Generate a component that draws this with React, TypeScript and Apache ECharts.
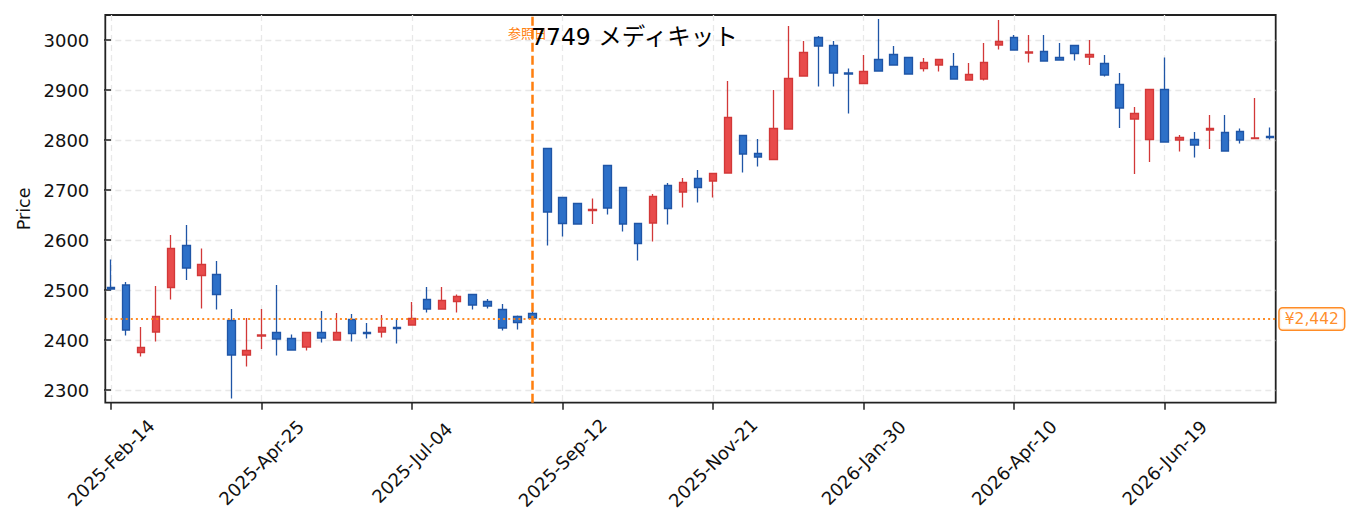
import React, { useEffect, useRef } from "react";
import * as echarts from "echarts";

const chartTitle = "7749 メディキット";
const referenceLabel = "参照日";
const yAxisName = "Price";

const dates = [
  "2025-02-14", "2025-02-21", "2025-02-28", "2025-03-07", "2025-03-14", "2025-03-21", "2025-03-28", "2025-04-04", "2025-04-11", "2025-04-18",
  "2025-04-25", "2025-05-02", "2025-05-09", "2025-05-16", "2025-05-23", "2025-05-30", "2025-06-06", "2025-06-13", "2025-06-20", "2025-06-27",
  "2025-07-04", "2025-07-11", "2025-07-18", "2025-07-25", "2025-08-01", "2025-08-08", "2025-08-15", "2025-08-22", "2025-08-29", "2025-09-05",
  "2025-09-12", "2025-09-19", "2025-09-26", "2025-10-03", "2025-10-10", "2025-10-17", "2025-10-24", "2025-10-31", "2025-11-07", "2025-11-14",
  "2025-11-21", "2025-11-28", "2025-12-05", "2025-12-12", "2025-12-19", "2025-12-26", "2026-01-02", "2026-01-09", "2026-01-16", "2026-01-23",
  "2026-01-30", "2026-02-06", "2026-02-13", "2026-02-20", "2026-02-27", "2026-03-06", "2026-03-13", "2026-03-20", "2026-03-27", "2026-04-03",
  "2026-04-10", "2026-04-17", "2026-04-24", "2026-05-01", "2026-05-08", "2026-05-15", "2026-05-22", "2026-05-29", "2026-06-05", "2026-06-12",
  "2026-06-19", "2026-06-26", "2026-07-03", "2026-07-10", "2026-07-17", "2026-07-24", "2026-07-31", "2026-08-07",
];

const opens = [
  2505, 2510, 2375, 2416, 2505, 2589, 2529, 2531, 2439, 2370,
  2408, 2415, 2403, 2386, 2415, 2400, 2441, 2415, 2416, 2425,
  2430, 2481, 2462, 2477, 2491, 2477, 2461, 2447, 2453, 2783,
  2685, 2673, 2659, 2749, 2705, 2633, 2634, 2709, 2696, 2723,
  2718, 2734, 2809, 2773, 2761, 2822, 2928, 3005, 2989, 2934,
  2913, 2961, 2971, 2965, 2943, 2950, 2947, 2920, 2922, 2990,
  3005, 2974, 2977, 2965, 2989, 2966, 2953, 2911, 2842, 2801,
  2901, 2800, 2801, 2820, 2815, 2817, 2803, 2807,
];

const closes = [
  2502, 2420, 2385, 2447, 2583, 2544, 2551, 2491, 2370, 2379,
  2410, 2402, 2380, 2415, 2404, 2415, 2413, 2413, 2425, 2423,
  2443, 2462, 2479, 2487, 2470, 2468, 2424, 2435, 2444, 2656,
  2633, 2632, 2661, 2664, 2632, 2593, 2687, 2663, 2715, 2705,
  2733, 2845, 2772, 2766, 2823, 2923, 2975, 2988, 2934, 2932,
  2937, 2938, 2950, 2932, 2955, 2961, 2922, 2931, 2955, 2997,
  2980, 2976, 2958, 2960, 2973, 2971, 2930, 2864, 2853, 2901,
  2796, 2805, 2790, 2823, 2778, 2800, 2804, 2805,
];

const lows = [
  2499, 2409, 2367, 2397, 2481, 2520, 2463, 2461, 2283, 2347,
  2382, 2369, 2380, 2379, 2395, 2400, 2397, 2403, 2405, 2393,
  2430, 2455, 2462, 2455, 2461, 2463, 2419, 2421, 2435, 2589,
  2607, 2632, 2632, 2651, 2617, 2559, 2597, 2631, 2665, 2675,
  2685, 2734, 2735, 2747, 2761, 2822, 2928, 2907, 2907, 2853,
  2913, 2938, 2950, 2932, 2937, 2937, 2922, 2920, 2919, 2981,
  2980, 2955, 2958, 2960, 2959, 2950, 2927, 2824, 2732, 2756,
  2796, 2777, 2765, 2782, 2778, 2793, 2803, 2801,
];

const highs = [
  2561, 2516, 2426, 2508, 2610, 2630, 2583, 2558, 2462, 2444,
  2462, 2510, 2411, 2415, 2458, 2454, 2452, 2434, 2450, 2443,
  2476, 2506, 2506, 2491, 2491, 2482, 2472, 2449, 2461, 2783,
  2685, 2673, 2683, 2749, 2705, 2633, 2692, 2714, 2724, 2740,
  2733, 2918, 2809, 2802, 2900, 3028, 2998, 3008, 2998, 2943,
  2970, 3042, 2988, 2965, 2964, 2961, 2974, 2954, 2994, 3040,
  3010, 3010, 3010, 2994, 2989, 3000, 2970, 2934, 2866, 2901,
  2965, 2810, 2816, 2850, 2850, 2823, 2884, 2825,
];

const xTickIndices = [0, 10, 20, 30, 40, 50, 60, 70];
const xTickLabels = [
  "2025-Feb-14", "2025-Apr-25", "2025-Jul-04", "2025-Sep-12",
  "2025-Nov-21", "2026-Jan-30", "2026-Apr-10", "2026-Jun-19",
];
const yTicks = [2300, 2400, 2500, 2600, 2700, 2800, 2900, 3000];

const referenceDate = "2025-08-29";
const referencePrice = 2442;

const ORANGE = "#ff7f0e";
const TICK_FONT = "'DejaVu Sans', sans-serif";
const CJK_FONT = "'Noto Sans CJK JP', 'Noto Sans', sans-serif";
const TITLE_FONT = "'DejaVu Sans', 'Noto Sans CJK JP', sans-serif";

export default function App() {
  const ref = useRef<HTMLDivElement>(null);

  useEffect(() => {
    document.body.style.margin = "0";
    if (!ref.current) return;
    const chart = echarts.init(ref.current, undefined, { renderer: "svg" });

    const candleData = dates.map((d, i) => [i, opens[i], closes[i], lows[i], highs[i]]);
    const refIndex = dates.indexOf(referenceDate);

    const gridLine = { show: true, lineStyle: { color: "#e8e8e8", width: 1.3, type: [6, 4] as any } };

    chart.setOption({
      animation: false,
      backgroundColor: "#ffffff",
      grid: {
        left: 105.3,
        top: 15,
        right: 79.3,
        bottom: 129.3,
        show: true,
        borderColor: "#222222",
        borderWidth: 1.8,
        backgroundColor: "transparent",
      },
      xAxis: {
        type: "value",
        min: -0.38,
        max: 77.38,
        axisLine: { show: false },
        axisTick: {
          show: true,
          customValues: xTickIndices,
          length: 7,
          lineStyle: { color: "#222222", width: 1.5 },
        },
        axisLabel: {
          show: true,
          customValues: xTickIndices,
          rotate: 45,
          align: "center",
          verticalAlign: "middle",
          margin: 60,
          fontSize: 18,
          fontFamily: TICK_FONT,
          color: "#111111",
          formatter: (v: number) => {
            const k = xTickIndices.indexOf(Math.round(v));
            return k >= 0 ? xTickLabels[k] : "";
          },
        },
        splitLine: gridLine,
      },
      yAxis: {
        type: "value",
        min: 2274.6,
        max: 3050,
        name: yAxisName,
        nameLocation: "middle",
        nameGap: 63,
        nameTextStyle: { fontSize: 17.5, fontFamily: TICK_FONT, color: "#111111" },
        axisLine: { show: false },
        axisTick: {
          show: true,
          customValues: yTicks,
          length: 7,
          lineStyle: { color: "#222222", width: 1.5 },
        },
        axisLabel: {
          show: true,
          customValues: yTicks,
          margin: 16,
          fontSize: 18,
          fontFamily: TICK_FONT,
          color: "#111111",
          formatter: (v: number) => String(Math.round(v)),
        },
        splitLine: gridLine,
      },
      series: [
        {
          type: "candlestick",
          data: candleData,
          barWidth: 8,
          clip: false,
          itemStyle: {
            color: "#e84b4b",
            color0: "#2d70c8",
            borderColor: "#d23838",
            borderColor0: "#1f55a6",
            borderWidth: 1.3,
          },
          markLine: {
            silent: true,
            symbol: ["none", "none"],
            animation: false,
            data: [
              {
                xAxis: refIndex,
                lineStyle: { color: ORANGE, width: 2.5, type: [9, 4] as any },
                label: { show: false },
              },
              {
                yAxis: referencePrice,
                lineStyle: { color: ORANGE, width: 2.2, type: [2, 3.1] as any, opacity: 0.9 },
                label: {
                  show: true,
                  position: "end",
                  distance: 4,
                  formatter: "¥" + referencePrice.toLocaleString("en-US"),
                  color: ORANGE,
                  fontSize: 15.5,
                  fontFamily: TICK_FONT,
                  backgroundColor: "#ffffff",
                  borderColor: ORANGE,
                  borderWidth: 1.5,
                  borderRadius: 3,
                  padding: [3, 5, 2, 5],
                },
              },
            ],
          },
        },
      ],
      graphic: [
        {
          type: "text",
          left: 508,
          top: 26,
          z: 10,
          style: { text: referenceLabel, fill: ORANGE, fontSize: 13, fontFamily: CJK_FONT },
        },
        {
          type: "text",
          left: 531,
          top: 25,
          z: 11,
          style: { text: chartTitle, fill: "#000000", fontSize: 23.5, fontFamily: TITLE_FONT },
        },
      ],
    });

    return () => chart.dispose();
  }, []);

  return <div ref={ref} style={{ width: 1355, height: 532, overflow: "hidden" }} />;
}
